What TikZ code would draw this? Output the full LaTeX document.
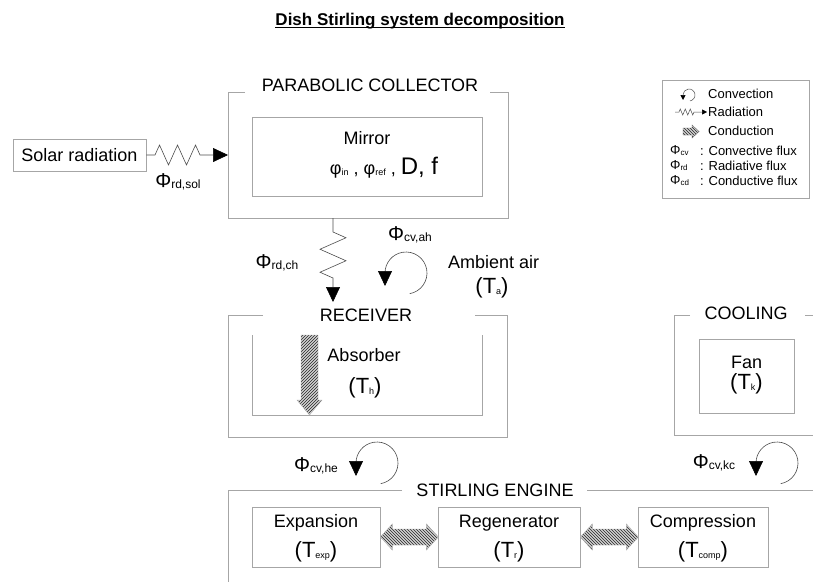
\documentclass[tikz,border=0pt]{standalone}
\usepackage{fontspec}
\setmainfont{Liberation Sans}
\usetikzlibrary{arrows.meta,decorations.pathmorphing,patterns}

% small lowered indices
\newcommand{\lo}[1]{\raisebox{-1.5pt}{\fontsize{12}{12}\selectfont #1}}
\newcommand{\tlo}[1]{\raisebox{-1pt}{\fontsize{9}{9}\selectfont #1}}
\newcommand{\llo}[1]{\raisebox{-1pt}{\fontsize{8}{8}\selectfont #1}}

\tikzset{
  frame/.style={draw=gray!70, line width=0.7pt},
  box/.style={draw=gray!70, line width=0.7pt, inner sep=0pt},
  lbl/.style={font=\fontsize{18}{20}\selectfont, inner sep=0pt},
  big/.style={font=\fontsize{22}{24}\selectfont, inner sep=0pt},
  flx/.style={font=\fontsize{20}{22}\selectfont, inner sep=0pt},
  legtxt/.style={font=\fontsize{13}{15}\selectfont, inner sep=0pt, anchor=west},
  radflux/.style={draw=gray!60!black, line width=0.6pt,
    decoration={zigzag, amplitude=#1}},
  convflux/.style={draw=gray!60!black, line width=0.6pt},
  tipbig/.style={-{Triangle[length=15pt, width=14pt, color=black]}},
  tipsmall/.style={-{Triangle[length=5pt, width=5pt, color=black]}},
  condflux/.style={draw=gray!60, line width=0.4pt, preaction={fill=gray!35},
    pattern=#1, pattern color=black!85}
}

% fat double arrow, left tip at #1
\newcommand{\dblcond}[1]{%
  \filldraw[condflux=north west lines] (#1) -- ++(12,-13) -- ++(0,5) -- ++(34,0)
    -- ++(0,-5) -- ++(12,13) -- ++(-12,13) -- ++(0,-5) -- ++(-34,0)
    -- ++(0,5) -- cycle;}

\begin{document}
\begin{tikzpicture}[x=1pt, y=-1pt]
  \useasboundingbox (0,0) rectangle (813,581);

  % Title
  \node[font=\bfseries\fontsize{17}{19}\selectfont, inner sep=0pt, anchor=base] (title) at (420,25) {Dish Stirling system decomposition};
  \draw[line width=0.6pt] ([yshift=-2pt]title.base west) -- ([yshift=-2pt]title.base east);

  % Parabolic collector
  \draw[frame] (245,92) -| (228,218) -| (508,92) -- (490,92);
  \node[lbl] (collector) at (370,85) {PARABOLIC COLLECTOR};
  \node[box, minimum width=230pt, minimum height=79pt] (mirror) at (367,156.5) {};
  \node[lbl] (mirrortxt) at (367,138) {Mirror};
  \node[lbl] (mirrorpar) at (384,168) {φ\tlo{in} , φ\tlo{ref} , {\fontsize{24}{24}\selectfont D, f}};

  % Solar radiation
  \node[box, lbl, minimum width=133pt, minimum height=32pt] (solar) at (79.5,155) {Solar radiation};
  \coordinate (collW) at (228,155);
  \draw[radflux=10, tipbig] (solar.east) -- (155,155)
    decorate[decoration={segment length=18pt}] {-- (200,155)} -- (collW);
  \node[flx] (phisol) at (178,182) {Φ\lo{rd,sol}};

  % Collector to receiver
  \coordinate (collS) at (333,218);
  \coordinate (recvN) at (333,302);
  \draw[radflux=13, tipbig] (collS) -- (333,232)
    decorate[decoration={segment length=23pt}] {-- (333,278)} -- (recvN);
  \node[flx] (phich) at (277,263) {Φ\lo{rd,ch}};

  % Ambient air
  \coordinate (ahloop) at (406,273);
  \draw[convflux, tipbig] (ahloop) ++(80:21) arc[start angle=80, end angle=-180, radius=21] -- ++(0,13);
  \node[flx] (phiah) at (410,235) {Φ\lo{cv,ah}};
  \node[lbl, anchor=west] (ambient) at (448,262) {Ambient air};
  \node[big] (ta) at (492,288) {(T\tlo{a})};

  % Receiver
  \draw[frame] (263,315) -| (228,437) -| (507,315) -- (475,315);
  \node[lbl] (receiver) at (366,315) {RECEIVER};
  \draw[frame] (252,335) |- (482,415) -- (482,335);
  \filldraw[condflux=north east lines] (301,335) -- (318,335) -- (318,400) -- (322,400)
    -- (309.5,415) -- (297,400) -- (301,400) -- cycle;
  \node[lbl] (absorber) at (364,355) {Absorber};
  \node[big] (th) at (365,388) {(T\tlo{h})};

  % Cooling
  \draw[frame] (690,315) -| (674,435) -- (814,435);
  \draw[frame] (805,315) -- (814,315);
  \node[lbl] (cooling) at (746,313) {COOLING};
  \node[box, minimum width=95pt, minimum height=74pt] (fan) at (746.5,376) {};
  \node[lbl] (fantxt) at (746.5,362) {Fan};
  \node[big] (tk) at (746.5,384) {(T\tlo{k})};

  % Convection to the engine
  \coordinate (heloop) at (377,463);
  \draw[convflux, tipbig] (heloop) ++(80:21) arc[start angle=80, end angle=-180, radius=21] -- ++(0,13);
  \node[flx] (phihe) at (316,466) {Φ\lo{cv,he}};
  \coordinate (kcloop) at (777,463);
  \draw[convflux, tipbig] (kcloop) ++(80:21) arc[start angle=80, end angle=-180, radius=21] -- ++(0,13);
  \node[flx] (phikc) at (714,463) {Φ\lo{cv,kc}};

  % Stirling engine
  \draw[frame] (402,490) -| (228,582);
  \draw[frame] (587,490) -- (814,490);
  \node[lbl] (engine) at (495,490) {STIRLING ENGINE};
  \node[box, minimum width=128pt, minimum height=60pt] (expansion) at (316,537) {};
  \node[lbl] at (316,523) {Expansion};
  \node[big] at (316,552) {(T\tlo{exp})};
  \node[box, minimum width=142pt, minimum height=60pt] (regen) at (509,537) {};
  \node[lbl] at (509,523) {Regenerator};
  \node[big] at (509,552) {(T\tlo{r})};
  \node[box, minimum width=130pt, minimum height=60pt] (compr) at (703,537) {};
  \node[lbl] at (703,523) {Compression};
  \node[big] at (703,552) {(T\tlo{comp})};
  \dblcond{expansion.east}
  \dblcond{regen.east}

  % Legend
  \node[box, minimum width=147pt, minimum height=118pt] (legend) at (735.5,139) {};
  \coordinate (legcv) at (689,95);
  \draw[convflux, line width=0.5pt, tipsmall] (legcv) ++(80:6) arc[start angle=80, end angle=-180, radius=6] -- ++(0,5);
  \node[legtxt] at (708,94) {Convection};
  \draw[radflux=3, line width=0.5pt, tipsmall] (675,112) -- (679,112)
    decorate[decoration={segment length=5pt}] {-- (694,112)} -- (707,112);
  \node[legtxt] at (708,112) {Radiation};
  \filldraw[condflux=north west lines, draw=gray!80!black] (683,128) -- (692,128) -- (692,125) -- (699,131.5)
    -- (692,138) -- (692,135) -- (683,135) -- cycle;
  \node[legtxt] at (708,131) {Conduction};
  \node[legtxt] at (670,151) {Φ\llo{cv}};
  \node[legtxt] at (700,151) {: Convective flux};
  \node[legtxt] at (670,166) {Φ\llo{rd}};
  \node[legtxt] at (700,166) {: Radiative flux};
  \node[legtxt] at (670,181) {Φ\llo{cd}};
  \node[legtxt] at (700,181) {: Conductive flux};
\end{tikzpicture}
\end{document}
